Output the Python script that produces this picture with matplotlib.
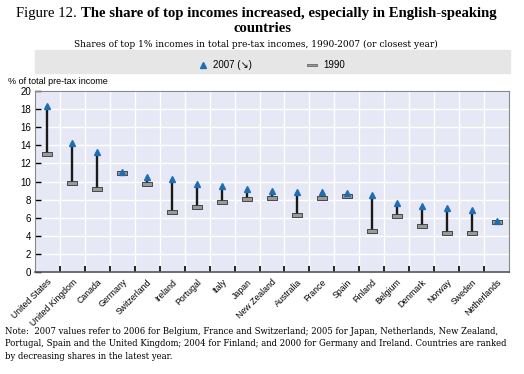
import numpy as np
import matplotlib.pyplot as plt
from matplotlib.path import Path
from matplotlib.patches import Rectangle

countries = ['United States', 'United Kingdom', 'Canada', 'Germany', 'Switzerland',
             'Ireland', 'Portugal', 'Italy', 'Japan', 'New Zealand', 'Australia',
             'France', 'Spain', 'Finland', 'Belgium', 'Denmark', 'Norway', 'Sweden',
             'Netherlands']
share_2007 = [18.3, 14.3, 13.3, 11.1, 10.45, 10.3, 9.75, 9.45, 9.15, 8.95, 8.8,
              8.8, 8.7, 8.5, 7.6, 7.3, 7.05, 6.8, 5.65]
share_1990 = [13.0, 9.8, 9.15, 10.9, 9.7, 6.6, 7.2, 7.7, 8.05, 8.2, 6.3,
              8.2, 8.35, 4.5, 6.2, 5.1, 4.3, 4.3, 5.5]
yticks = np.arange(0, 21, 2)

W, H = 524, 374
fig = plt.figure(figsize=(W/100, H/100), dpi=100)
sans = ['Liberation Sans Narrow', 'Liberation Sans', 'DejaVu Sans']
serif = ['DejaVu Serif']
tserif = ['Liberation Serif', 'DejaVu Serif']

def fx(px): return px / W
def fy(py): return 1 - py / H

# titles
fig.text(fx(77), fy(14), 'Figure 12.', ha='right', va='center', fontsize=10.6, family=tserif)
fig.text(fx(81), fy(14), 'The share of top incomes increased, especially in English-speaking',
         ha='left', va='center', fontsize=10.6, family=tserif, weight='bold')
fig.text(fx(262), fy(29), 'countries', ha='center', va='center', fontsize=10.6,
         family=tserif, weight='bold')
fig.text(fx(256), fy(44), 'Shares of top 1% incomes in total pre-tax incomes, 1990-2007 (or closest year)',
         ha='center', va='center', fontsize=6.5, family=serif)

# legend band
fig.patches.append(Rectangle((fx(35), fy(73)), fx(510) - fx(35), fy(50) - fy(73),
                             transform=fig.transFigure, color='#e6e6e6', zorder=0))

ax = fig.add_axes([fx(35), fy(272), fx(509) - fx(35), fy(91) - fy(272)])
ax.set_facecolor('#e6e9f5')
x = np.arange(len(countries))

rect = Path([(-1, -0.3), (1, -0.3), (1, 0.3), (-1, 0.3), (-1, -0.3)],
            [Path.MOVETO, Path.LINETO, Path.LINETO, Path.LINETO, Path.CLOSEPOLY])

ax.vlines(x, share_1990, share_2007, color='#1a1a1a', lw=1.7, zorder=3)
ax.plot(x, share_1990, ls='none', marker=rect, ms=7.5, mfc='#9a9a9a', mec='#333333',
        mew=0.6, zorder=4)
ax.plot(x, share_2007, ls='none', marker='^', ms=5, color='#1f6db5', zorder=5)

ax.set_xlim(-0.5, len(countries) - 0.5)
ax.set_ylim(0, 20)
ax.set_yticks(yticks)
ax.set_yticklabels([str(v) for v in yticks], fontsize=7, family=sans)
ax.set_xticks(x)
ax.set_xticklabels(countries, rotation=45, ha='right', rotation_mode='anchor',
                   fontsize=6.3, family=sans)
ax.tick_params(axis='x', which='major', length=0, pad=4)
ax.set_xticks(np.arange(-0.5, len(countries), 1)[1:-1], minor=True)
ax.tick_params(axis='x', which='minor', direction='in', length=4, width=1.2, color='black')
ax.tick_params(axis='y', direction='in', length=4, width=1, color='black', pad=3)
ax.grid(True, which='minor', axis='x', color='white', lw=1)
ax.grid(True, which='major', axis='y', color='white', lw=1)
ax.set_axisbelow(True)
for s in ['top', 'right', 'left']:
    ax.spines[s].set_color('#888888')
ax.spines['bottom'].set_color('#555555')
ax.spines['bottom'].set_linewidth(1.2)

fig.text(fx(8), fy(82), '% of total pre-tax income', ha='left', va='center',
         fontsize=6.5, family=sans)

# legend items
ly = fy(65)
fig.lines.append(plt.Line2D([fx(203)], [ly], transform=fig.transFigure, ls='none',
                            marker='^', ms=5, color='#1f6db5'))
fig.text(fx(213), ly, '2007 (\u2198)', ha='left', va='center', fontsize=7, family=sans)
fig.lines.append(plt.Line2D([fx(312)], [ly], transform=fig.transFigure, ls='none',
                            marker=rect, ms=7, mfc='#9a9a9a', mec='#555555', mew=0.5))
fig.text(fx(323), ly, '1990', ha='left', va='center', fontsize=7, family=sans)

note = ('Note:  2007 values refer to 2006 for Belgium, France and Switzerland; 2005 for Japan, Netherlands, New Zealand,\n'
        'Portugal, Spain and the United Kingdom; 2004 for Finland; and 2000 for Germany and Ireland. Countries are ranked\n'
        'by decreasing shares in the latest year.')
fig.text(fx(5), fy(327), note, ha='left', va='top', fontsize=6.15, family=serif,
         linespacing=1.5)

fig.savefig('out.png', dpi=100)
